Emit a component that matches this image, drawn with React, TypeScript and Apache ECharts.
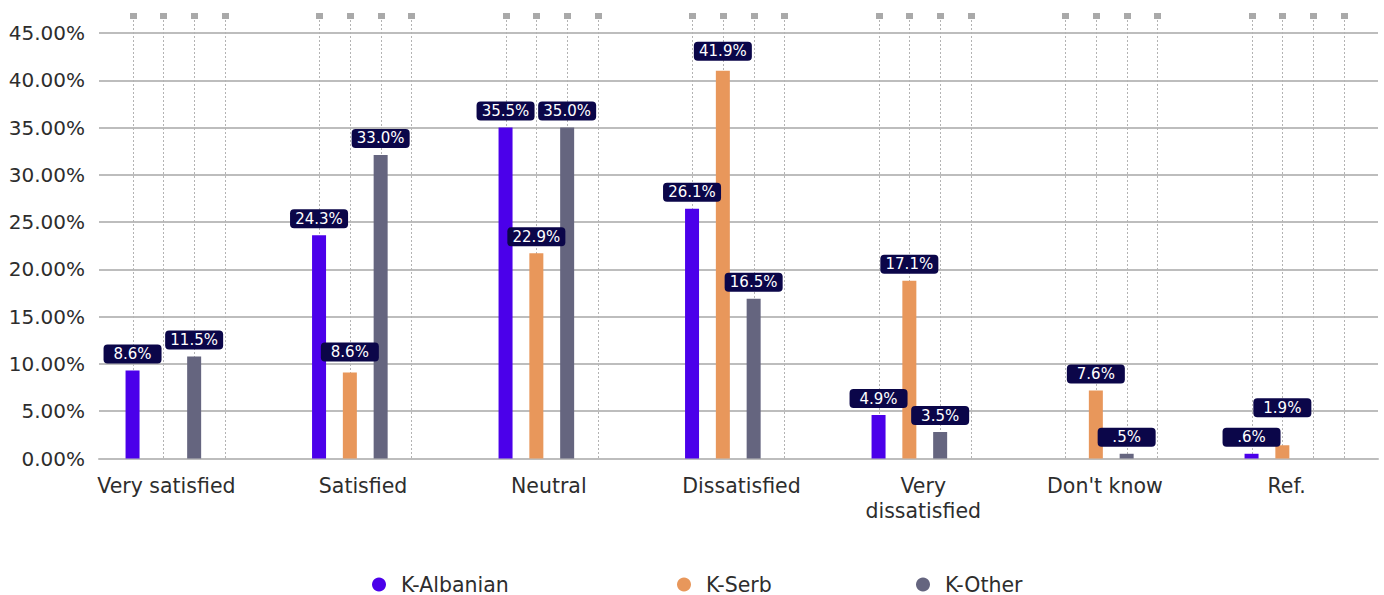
import { useEffect, useRef } from "react";
import * as echarts from "echarts";

const categories = ["Very satisfied", "Satisfied", "Neutral", "Dissatisfied", "Very\ndissatisfied", "Don't know", "Ref."];
const seriesNames = ["K-Albanian", "K-Serb", "K-Other"];
const albanianValues = [9.3, 23.6, 35.0, 26.4, 4.6, null, 0.5];
const serbValues = [null, 9.1, 21.7, 41.0, 18.8, 7.2, 1.4];
const otherValues = [10.8, 32.1, 35.0, 16.9, 2.8, 0.5, null];
const albanianLabels = ["8.6%", "24.3%", "35.5%", "26.1%", "4.9%", null, ".6%"];
const serbLabels = [null, "8.6%", "22.9%", "41.9%", "17.1%", "7.6%", "1.9%"];
const otherLabels = ["11.5%", "33.0%", "35.0%", "16.5%", "3.5%", ".5%", null];
const yMin = 0;
const yMax = 45;
const yInterval = 5;

const colors = ["#4b00ea", "#e8975b", "#65657f"];
const FONT = "DejaVu Sans";
const labelShift = [-24, -10, -7, 3, 2, 1, 0];
// extra vertical lift (px) for labels that the reference moves to avoid overlap: [series, category, dy]
const labelLift: [number, number, number][] = [
  [1, 6, -21],
  [1, 3, -3],
  [1, 1, -4],
];
const legendLeft = [367, 672, 911];
const BAR_W = 14;
const BAR_GAP = 1.2;
const SLOTS = 4;

export default function App() {
  const ref = useRef<HTMLDivElement>(null);
  useEffect(() => {
    if (!ref.current) return;
    const chart = echarts.init(ref.current, null, { renderer: "svg" });
    const values = [albanianValues, serbValues, otherValues];
    const labels = [albanianLabels, serbLabels, otherLabels];

    const rich: Record<string, any> = {};
    labelShift.forEach((s, i) => {
      rich["s" + i] = {
        fontSize: 20.5,
        fontFamily: FONT,
        color: "#2d2d2d",
        lineHeight: 25,
        padding: s < 0 ? [0, -2 * s, 0, 0] : [0, 0, 0, 2 * s],
      };
    });

    const barSeries = values.map((vals, si) => ({
      type: "bar",
      name: seriesNames[si],
      xAxisIndex: 1,
      yAxisIndex: 1,
      data: vals.map((v, ci) => {
        const lift = labelLift.find((l) => l[0] === si && l[1] === ci);
        return lift ? { value: v, label: { offset: [0, lift[2]] } } : v;
      }),
      barWidth: BAR_W,
      barGap: BAR_GAP * 100 + "%",
      itemStyle: { color: colors[si] },
      z: 3,
      label: {
        show: true,
        position: "top",
        distance: 7,
        formatter: (p: any) => labels[si][p.dataIndex] ?? "",
        color: "#ffffff",
        fontSize: 15,
        fontFamily: FONT,
        backgroundColor: "#0b0649",
        borderRadius: 4,
        padding: [2, 4],
        width: 50,
        height: 15,
        lineHeight: 15,
        align: "center",
      },
    }));

    const step = BAR_W * (1 + BAR_GAP);
    const total = SLOTS * BAR_W + (SLOTS - 1) * BAR_W * BAR_GAP;

    const option: any = {
      animation: false,
      grid: [
        { left: 99, top: 33, width: 1279, height: 425.5 },
        { left: 85.5, top: 33, width: 1305.5, height: 425.5 },
      ],
      xAxis: [
        {
          type: "category",
          gridIndex: 0,
          data: categories,
          axisTick: { show: false },
          axisLine: { lineStyle: { color: "#bdbdbd", width: 2 } },
          axisLabel: {
            margin: 15,
            interval: 0,
            formatter: (v: string, i: number) => `{s${i}|${v}}`,
            rich,
          },
        },
        { type: "category", gridIndex: 1, data: categories, show: false },
      ],
      yAxis: [
        {
          type: "value",
          gridIndex: 0,
          min: yMin,
          max: yMax,
          interval: yInterval,
          axisLine: { show: false },
          axisTick: { show: false },
          axisLabel: {
            formatter: (v: number) => v.toFixed(2) + "%",
            fontSize: 20,
            fontFamily: FONT,
            color: "#2d2d2d",
            margin: 14,
          },
          splitLine: { lineStyle: { color: "#bdbdbd", width: 2 } },
        },
        { type: "value", gridIndex: 1, min: yMin, max: yMax, interval: yInterval, show: false },
      ],
      legend: seriesNames.map((n, i) => ({
        data: [n],
        left: legendLeft[i],
        top: 569,
        icon: "circle",
        itemWidth: 14,
        itemHeight: 14,
        selectedMode: false,
        textStyle: { fontSize: 20.5, fontFamily: FONT, color: "#2d2d2d", padding: [0, 0, 0, 10] },
      })),
      series: [
        {
          type: "custom",
          xAxisIndex: 1,
          yAxisIndex: 1,
          silent: true,
          z: 1,
          clip: false,
          data: categories.map((_, i) => [i]),
          renderItem: (params: any, api: any) => {
            const idx = api.value(0);
            const base = api.coord([idx, yMin]);
            const top = api.coord([idx, yMax]);
            const children: any[] = [];
            for (let k = 0; k < SLOTS; k++) {
              const x = Math.round(base[0] - total / 2 + BAR_W / 2 + k * step) + 0.5;
              children.push({
                type: "line",
                shape: { x1: x, y1: top[1] - 17, x2: x, y2: base[1] },
                style: { stroke: "#b3b3b3", lineWidth: 1, lineDash: [2, 2] },
              });
              children.push({
                type: "rect",
                shape: { x: x - 3.5, y: top[1] - 20, width: 7, height: 6 },
                style: { fill: "#a9a9a9" },
              });
            }
            return { type: "group", children };
          },
        },
        ...barSeries,
        {
          type: "bar",
          name: "",
          xAxisIndex: 1,
          yAxisIndex: 1,
          data: categories.map(() => null),
          barWidth: BAR_W,
          barGap: BAR_GAP * 100 + "%",
          silent: true,
        },
      ],
    };
    chart.setOption(option);
    return () => chart.dispose();
  }, []);
  return (
    <div style={{ position: "absolute", left: 0, top: 0, width: 1384, height: 595, overflow: "hidden" }}>
      <div ref={ref} style={{ position: "absolute", left: 0, top: 0, width: 1400, height: 595 }} />
    </div>
  );
}
